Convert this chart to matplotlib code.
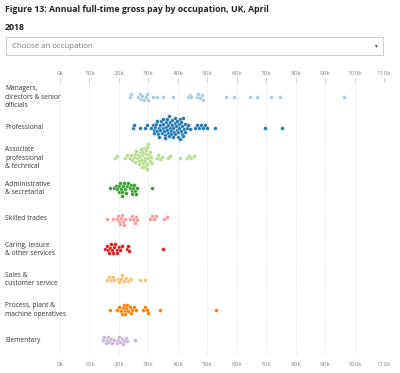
import numpy as np
import matplotlib
matplotlib.use("Agg")
import matplotlib.pyplot as plt
from matplotlib.patches import Rectangle

plt.rcParams['font.family'] = ['Open Sans', 'DejaVu Sans']

# -----------------------------
# DATA (annual pay, thousands of pounds)
# -----------------------------

occupations = [
    "Managers,\ndirectors & senior\nofficials",
    "Professional",
    "Associate\nprofessional\n& technical",
    "Administrative\n& secretarial",
    "Skilled trades",
    "Caring, leisure\n& other services",
    "Sales &\ncustomer service",
    "Process, plant &\nmachine operatives",
    "Elementary",
]

managers = [23.8, 24.2, 26.5, 27.0, 27.5, 28.0, 28.5, 29.2, 29.5, 29.8,
            31.5, 33.0, 35.0, 38.2, 43.3, 44.0, 44.6, 46.5, 47.0, 47.6,
            48.2, 48.5, 56.5, 59.2, 64.5, 67.0, 71.6, 74.6, 96.4]

professional = [24.8, 25.2, 27.0, 28.8, 29.6,
                31.0, 31.5, 31.8, 32.0, 32.3, 32.6, 32.9, 33.0, 33.2, 33.5,
                33.7, 34.0, 34.1, 34.3, 34.5, 34.8, 35.0, 35.1, 35.3, 35.5,
                35.7, 35.9, 36.0, 36.2, 36.4, 36.5, 36.7, 36.9, 37.0, 37.2,
                37.4, 37.6, 37.8, 38.0, 38.1, 38.3, 38.5, 38.7, 38.9, 39.0,
                39.2, 39.4, 39.6, 39.8, 40.0, 40.1, 40.3, 40.5, 40.6, 40.8,
                41.0, 41.1, 41.3, 41.5, 41.7, 41.9, 42.0, 42.3, 42.6, 43.0,
                43.5, 44.0,
                45.8, 46.5, 47.3, 48.0, 48.6, 49.2, 49.8, 52.6, 69.6, 75.3]

associate = [18.7, 19.5, 22.0, 22.6, 23.8, 24.2, 24.6, 25.0, 25.3, 25.6,
             25.9, 26.2, 26.4, 26.7, 26.9, 27.1, 27.3, 27.5, 27.7, 27.9,
             28.0, 28.2, 28.3, 28.5, 28.7, 28.8, 29.0, 29.1, 29.3, 29.4,
             29.6, 29.7, 29.9, 30.0, 30.2, 30.4, 30.7, 31.0, 31.3, 33.0,
             33.4, 34.0, 34.6, 36.6, 37.5, 40.6, 43.0, 43.8, 44.6, 45.4]

admin = [16.9, 18.3, 19.0, 19.5, 19.9, 20.2, 20.5, 20.8, 21.0, 21.2,
         21.5, 21.7, 22.0, 22.3, 22.6, 23.0, 23.6, 24.0, 24.3, 24.6,
         24.9, 25.2, 25.5, 25.8, 26.2, 31.1]

skilled = [15.8, 17.9, 19.4, 19.8, 20.2, 20.5, 20.8, 21.0, 21.3, 21.6,
           22.0, 23.8, 24.4, 24.9, 25.3, 25.8, 26.3, 30.4, 31.2, 32.0,
           32.6, 35.4, 36.4]

caring = [15.2, 15.8, 16.3, 16.8, 17.1, 17.4, 17.8, 18.1, 18.4, 18.8,
          19.2, 19.5, 19.9, 20.4, 21.0, 22.6, 23.0, 23.5, 34.9]

sales = [15.9, 16.5, 17.2, 17.9, 18.5, 19.6, 20.2, 20.7, 21.1, 21.6,
         22.4, 23.2, 24.1, 27.0, 28.7]

process = [16.9, 19.5, 20.2, 20.6, 21.0, 21.3, 21.6, 21.9, 22.2, 22.5,
           22.8, 23.2, 23.6, 24.0, 24.6, 25.2, 25.9, 28.2, 28.8, 29.4,
           29.8, 33.8, 52.8]

elementary = [14.7, 15.1, 15.5, 15.9, 16.3, 16.7, 17.2, 17.8, 18.5, 19.2,
              19.7, 20.1, 20.5, 20.9, 21.3, 21.8, 22.3, 22.9, 25.6]

series = [managers, professional, associate, admin, skilled,
          caring, sales, process, elementary]

# ColorBrewer "Paired"
colors = ["#a6cee3", "#1f78b4", "#b2df8a", "#33a02c", "#fb9a99",
          "#e31a1c", "#fdbf6f", "#ff7f00", "#cab2d6"]

ticks = list(range(0, 111, 10))
tick_labels = [f"{t}k" for t in ticks]

# -----------------------------
# LAYOUT (pixels)
# -----------------------------

W, H = 400, 373
ax_left, ax_right = 60, 384
ax_top, ax_bottom = 82, 355.6
xmax = 110
px_per_k = (ax_right - ax_left) / xmax
px_per_row = (ax_bottom - ax_top) / len(series)
dot_d = 3.3  # collision distance in px


def swarm(values):
    # simple beeswarm: place each dot as close to the centre line as possible
    xs = np.array(sorted(values)) * px_per_k
    placed = []
    ys = []
    for x in xs:
        blocked = []
        for (px, py) in placed:
            dx = abs(x - px)
            if dx < dot_d:
                h = np.sqrt(dot_d**2 - dx**2)
                blocked.append((py - h, py + h))
        cands = [0.0] + [b[0] for b in blocked] + [b[1] for b in blocked]
        cands.sort(key=lambda c: (abs(c), c))
        for c in cands:
            if all(not (lo + 1e-6 < c < hi - 1e-6) for lo, hi in blocked):
                y = c
                break
        placed.append((x, y))
        ys.append(y)
    return np.array(sorted(values)), np.array(ys) / px_per_row


fig = plt.figure(figsize=(W / 100, H / 100), dpi=100)

ax = fig.add_axes([ax_left / W, 1 - ax_bottom / H,
                   (ax_right - ax_left) / W, (ax_bottom - ax_top) / H])

for i, vals in enumerate(series):
    xv, yoff = swarm(vals)
    ax.scatter(xv, i + yoff, s=7.5, color=colors[i],
               edgecolors="white", linewidths=0.25, zorder=3)

ax.set_xlim(0, xmax)
ax.set_ylim(len(series) - 0.5, -0.5)
ax.set_xticks(ticks)
ax.set_xticklabels(tick_labels)
ax.set_yticks([])
ax.tick_params(axis="x", top=True, labeltop=True, bottom=False,
               labelbottom=True, length=3, width=0.5, color="#bbbbbb",
               labelsize=4.6, labelcolor="#888888", pad=1.5)
ax.grid(axis="x", color="#dddddd", linestyle=(0, (1, 1.5)), linewidth=0.6)
for s in ax.spines.values():
    s.set_visible(False)

# row labels
for i, name in enumerate(occupations):
    y = 1 - (ax_top + (i + 0.5) * px_per_row) / H
    fig.text(5 / W, y, name, ha="left", va="center", fontsize=4.8,
             color="#333333", linespacing=1.25)

# title
fig.text(5 / W, 1 - 5 / H,
         "Figure 13: Annual full-time gross pay by occupation, UK, April\n2018",
         ha="left", va="top", fontsize=6.35, fontweight="bold",
         color="#222222", linespacing=2.35)

# dropdown box
fig.patches.append(Rectangle((6 / W, 1 - 55 / H), 377 / W, 18 / H,
                             transform=fig.transFigure, fill=False,
                             edgecolor="#cccccc", linewidth=0.7))
fig.text(12 / W, 1 - 46 / H, "Choose an occupation", ha="left",
         va="center", fontsize=5.7, color="#777777")
fig.text(376 / W, 1 - 46 / H, "\u25BE", ha="center", va="center",
         fontsize=4, color="#555555", family=["DejaVu Sans"])

fig.savefig("out.png", dpi=100)
